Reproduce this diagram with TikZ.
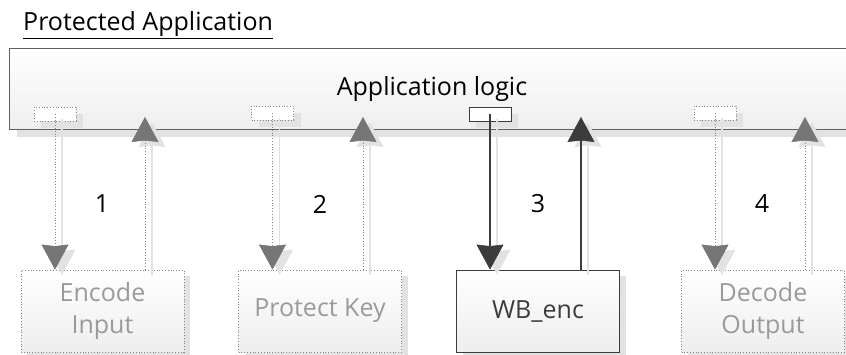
\documentclass[tikz,border=0pt]{standalone}
\usepackage{fontspec}
\setmainfont{Open Sans}
\usetikzlibrary{arrows.meta,shadows}
\definecolor{dotgray}{HTML}{858585}
\definecolor{headgray}{HTML}{767676}
\definecolor{txtgray}{HTML}{9A9A9A}
\definecolor{darkc}{HTML}{3C3C3C}
\definecolor{barline}{HTML}{606060}
\definecolor{shadowc}{HTML}{E2E2E2}
\definecolor{boxbot}{HTML}{EEEEEE}
\begin{document}
\begin{tikzpicture}[x=1pt,y=-1pt,
  txt/.style={font=\fontsize{25}{32}\selectfont, inner sep=0pt},
  bar/.style={draw=barline, line width=1.2pt, top color=white, bottom color=boxbot,
    minimum width=870pt, minimum height=81pt, inner sep=0pt,
    drop shadow={shadow xshift=7pt, shadow yshift=-7pt, fill=shadowc, opacity=1}},
  portd/.style={draw=dotgray, dotted, line width=0.8pt, fill=white,
    minimum width=42pt, minimum height=14pt, inner sep=0pt,
    drop shadow={shadow xshift=7pt, shadow yshift=-7pt, fill=shadowc, opacity=1}},
  ports/.style={portd, draw=darkc, solid},
  boxd/.style={draw=dotgray, dotted, line width=0.8pt, top color=white, bottom color=boxbot,
    minimum width=163pt, minimum height=82pt, inner sep=0pt, align=center,
    text=txtgray, font=\fontsize{25}{32}\selectfont,
    drop shadow={shadow xshift=6pt, shadow yshift=-6pt, fill=shadowc, opacity=1}},
  boxs/.style={boxd, draw=darkc, solid, text=darkc},
  dotarrow/.style={draw=dotgray, dotted, line width=0.8pt,
    -{Stealth[width=27pt,length=25pt,inset=1.5pt,color=headgray,fill=headgray,line width=0.5pt]}},
  solarrow/.style={draw=darkc, line width=1.1pt,
    -{Stealth[width=27pt,length=25pt,inset=1.5pt,fill=darkc,line width=0.5pt]}},
  shadarrow/.style={draw=shadowc, line width=1.4pt,
    -{Stealth[width=27pt,length=25pt,inset=1.5pt,fill=shadowc,line width=0.5pt]},
    transform canvas={xshift=7pt,yshift=-5pt}},
  num/.style={font=\fontsize{25}{28}\selectfont, inner sep=0pt}
]
\useasboundingbox (0,0) rectangle (846,355);

% title
\node[txt, anchor=base west] (title) at (23,31) {\underline{Protected Application}};

% application bar
\node[bar, anchor=north west] (bar) at (9,48) {};
\node[txt] (logic) at (432,89) {Application logic};

% ports
\node[portd] (p1) at (55,114) {};
\node[portd] (p2) at (272.5,113) {};
\node[ports] (p3) at (490,114) {};
\node[portd] (p4) at (715,113) {};

% boxes
\node[boxd] (b1) at (102.5,311) {Encode\\Input};
\node[boxd] (b2) at (320,311) {Protect Key};
\node[boxs] (b3) at (538,311) {WB\_enc};
\node[boxd] (b4) at (763,311) {Decode\\Output};

% up-arrow end points
\coordinate (u1) at (145,117);
\coordinate (u2) at (363,117);
\coordinate (u3) at (581,117);
\coordinate (u4) at (805,117);

% arrow shadows
\foreach \i in {1,2,3,4}{
  \draw[shadarrow] (p\i.center) -- (p\i.center |- b\i.north);
  \draw[shadarrow] (b\i.north -| u\i) -- (u\i);
}

% arrows
\draw[dotarrow] (p1.center) -- (p1.center |- b1.north);
\draw[dotarrow] (b1.north -| u1) -- (u1);
\draw[dotarrow] (p2.center) -- (p2.center |- b2.north);
\draw[dotarrow] (b2.north -| u2) -- (u2);
\draw[solarrow] (p3.center) -- (p3.center |- b3.north);
\draw[solarrow] (b3.north -| u3) -- (u3);
\draw[dotarrow] (p4.center) -- (p4.center |- b4.north);
\draw[dotarrow] (b4.north -| u4) -- (u4);

% numbers
\node[num] (n1) at (102,204) {1};
\node[num] (n2) at (320,204) {2};
\node[num] (n3) at (538,204) {3};
\node[num] (n4) at (762,204) {4};
\end{tikzpicture}
\end{document}
